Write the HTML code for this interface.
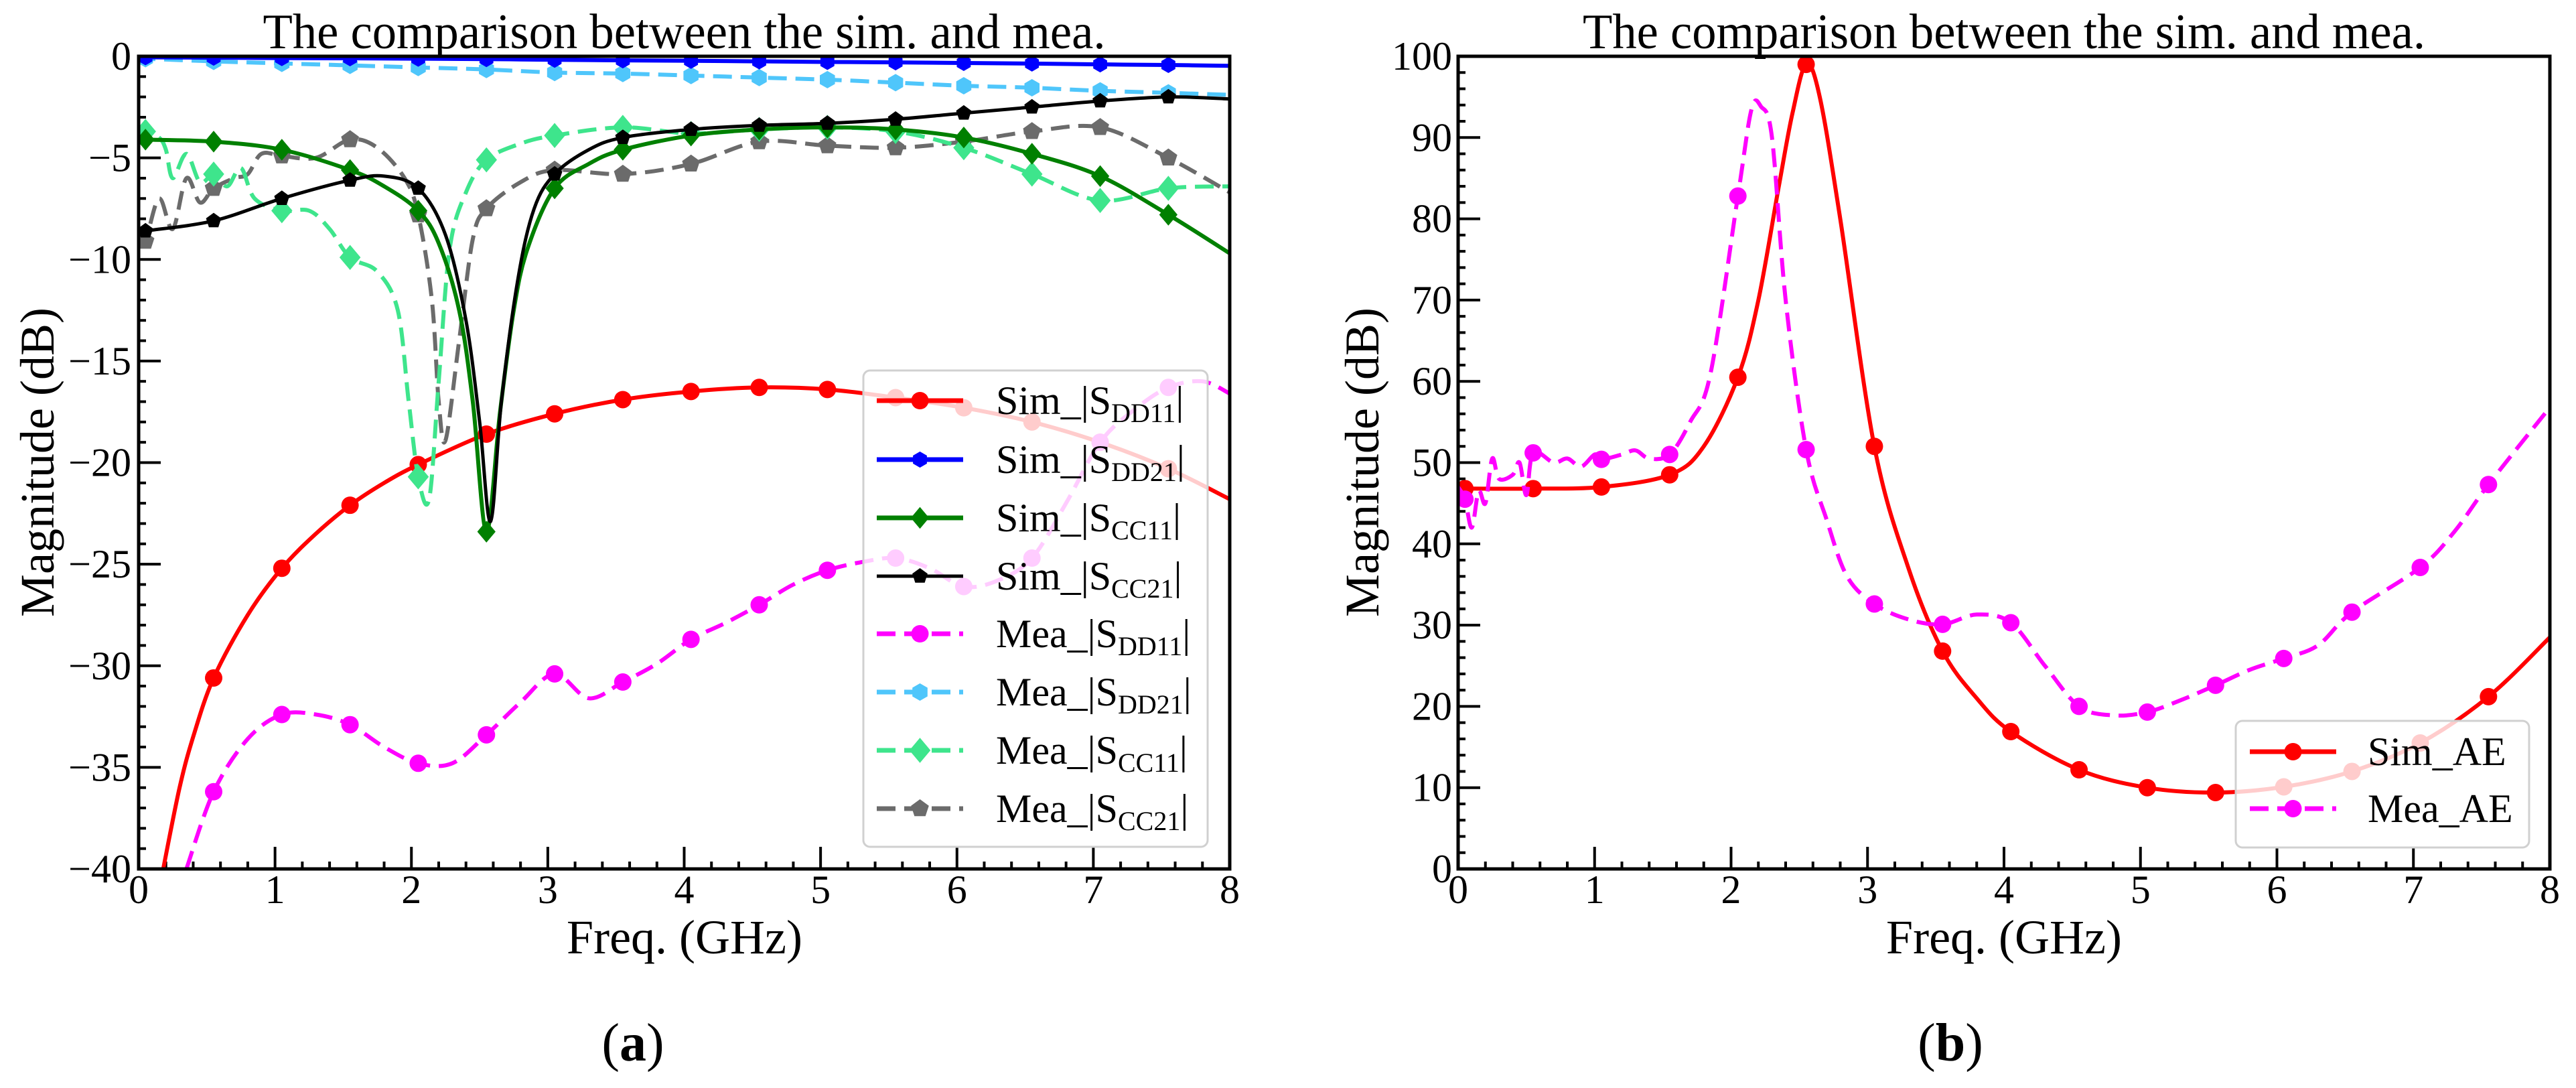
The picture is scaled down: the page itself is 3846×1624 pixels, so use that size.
<!DOCTYPE html>
<html><head><meta charset="utf-8">
<style>
html,body{margin:0;padding:0;background:#fff;}
svg{display:block;font-family:"Liberation Serif","Times New Roman",serif;}
</style></head>
<body>
<svg id="fig" width="3846" height="1624" viewBox="0 0 3846 1624" xmlns="http://www.w3.org/2000/svg">
<defs>
<clipPath id="clipA"><rect x="207" y="84" width="1629" height="1213"/></clipPath>
<clipPath id="clipB"><rect x="2177" y="84" width="1630" height="1213"/></clipPath>
</defs>
<g id="panelA"></g>
<g id="panelB"></g>
</svg>
<script>
// ===== Panel (a) data =====
const xTicksA = [0,1,2,3,4,5,6,7,8];
const yTicksA = [0,-5,-10,-15,-20,-25,-30,-35,-40];
const simDD11F = [0.18,0.3,0.4,0.55,0.8,1.05,1.3,1.55,1.8,2.05,2.55,3.05,3.55,4.05,4.55,5.05,5.55,6.05,6.55,7.05,7.55,8];
const simDD11V = [-40,-36,-33.5,-30.6,-27.5,-25.2,-23.5,-22.1,-21.0,-20.1,-18.6,-17.6,-16.9,-16.5,-16.3,-16.4,-16.8,-17.3,-18.0,-19.0,-20.3,-21.8];
const simDD21F = [0,0.05,0.55,1.05,1.55,2.05,2.55,3.05,3.55,4.05,4.55,5.05,5.55,6.05,6.55,7.05,7.55,8];
const simDD21V = [-0.05,-0.05,-0.07,-0.09,-0.1,-0.12,-0.14,-0.17,-0.2,-0.22,-0.25,-0.28,-0.3,-0.33,-0.36,-0.4,-0.43,-0.47];
const simCC11F = [0,0.05,0.55,1.05,1.55,1.8,2.05,2.2,2.35,2.45,2.55,2.65,2.75,2.85,3.05,3.3,3.55,4.05,4.55,5.05,5.55,6.05,6.55,7.05,7.55,8];
const simCC11V = [-4.0,-4.1,-4.2,-4.6,-5.6,-6.4,-7.6,-9.2,-12.5,-17,-23.4,-17.5,-12.5,-9.5,-6.5,-5.3,-4.6,-3.9,-3.6,-3.5,-3.6,-4.0,-4.8,-5.9,-7.8,-9.7];
const simCC21F = [0,0.05,0.55,1.05,1.55,1.8,2.05,2.25,2.4,2.5,2.58,2.66,2.78,2.9,3.05,3.3,3.55,4.05,4.55,5.05,5.55,6.05,6.55,7.05,7.55,8];
const simCC21V = [-8.7,-8.6,-8.1,-7.0,-6.1,-5.9,-6.5,-8.8,-13,-18,-22.9,-17,-11,-7.5,-5.8,-4.6,-4.0,-3.6,-3.4,-3.3,-3.1,-2.8,-2.5,-2.2,-2.0,-2.1];
const meaDD11F = [0.35,0.55,0.8,1.05,1.3,1.55,1.8,2.05,2.3,2.55,2.8,3.05,3.3,3.55,3.8,4.05,4.3,4.55,4.8,5.05,5.3,5.55,5.8,6.05,6.3,6.55,6.8,7.05,7.3,7.55,7.8,8];
const meaDD11V = [-40,-36.2,-33.6,-32.4,-32.4,-32.9,-34.0,-34.8,-34.8,-33.4,-31.8,-30.4,-31.6,-30.8,-29.9,-28.7,-27.9,-27.0,-26.0,-25.3,-24.9,-24.7,-25.2,-26.1,-25.8,-24.7,-22.0,-19.0,-17.4,-16.3,-16.0,-16.6];
const meaDD21F = [0,0.05,0.55,1.05,1.55,2.05,2.55,3.05,3.55,4.05,4.55,5.05,5.55,6.05,6.55,7.05,7.55,8];
const meaDD21V = [-0.1,-0.12,-0.25,-0.35,-0.45,-0.55,-0.65,-0.8,-0.85,-0.95,-1.05,-1.15,-1.3,-1.45,-1.55,-1.7,-1.8,-1.9];
const meaCC11F = [0,0.05,0.15,0.2,0.25,0.35,0.45,0.55,0.65,0.75,0.85,1.05,1.25,1.4,1.55,1.75,1.9,1.98,2.05,2.13,2.2,2.28,2.4,2.55,2.8,3.05,3.55,4.05,4.55,5.05,5.55,6.05,6.55,7.05,7.55,8];
const meaCC11V = [-4.2,-3.7,-4.0,-4.6,-6.0,-4.8,-6.2,-5.8,-6.4,-5.5,-7.0,-7.6,-7.6,-8.5,-9.9,-10.6,-12.5,-17,-20.7,-21.8,-16,-9.5,-6.7,-5.1,-4.3,-3.9,-3.5,-3.8,-3.6,-3.5,-3.7,-4.5,-5.8,-7.1,-6.5,-6.4];
const meaCC21F = [0,0.05,0.15,0.25,0.35,0.45,0.55,0.7,0.8,0.9,1.05,1.3,1.55,1.75,1.95,2.05,2.15,2.2,2.25,2.35,2.45,2.55,2.8,3.05,3.55,4.05,4.55,5.05,5.55,6.05,6.55,7.05,7.55,8];
const meaCC21V = [-9.3,-9.1,-7.0,-8.5,-6.0,-7.2,-6.5,-6.0,-5.8,-4.8,-4.9,-5.0,-4.1,-4.5,-6.0,-7.8,-12,-17,-18.9,-14,-9.0,-7.5,-6.2,-5.6,-5.8,-5.3,-4.2,-4.4,-4.5,-4.2,-3.7,-3.5,-5.0,-6.7];
// ===== Panel (b) data =====
const xTicksB = [0,1,2,3,4,5,6,7,8];
const yTicksB = [0,10,20,30,40,50,60,70,80,90,100];
const simAEF = [0,0.05,0.55,1.05,1.55,1.8,2.05,2.2,2.35,2.45,2.55,2.65,2.8,3.05,3.3,3.55,3.8,4.05,4.55,5.05,5.55,6.05,6.55,7.05,7.55,8];
const simAEV = [46.8,46.8,46.8,47.0,48.5,52,60.5,70,84,93,99,95,80,52.0,37,26.8,21,16.9,12.2,10.0,9.4,10.1,12.0,15.5,21.2,28.5];
const meaAEF = [0,0.05,0.1,0.15,0.2,0.25,0.3,0.4,0.45,0.5,0.55,0.7,0.8,0.9,1.0,1.05,1.2,1.3,1.4,1.55,1.7,1.85,2.05,2.15,2.22,2.3,2.4,2.55,2.7,2.85,3.05,3.3,3.55,3.8,4.05,4.3,4.55,4.8,5.05,5.3,5.55,5.8,6.05,6.3,6.55,7.05,7.3,7.55,8];
const meaAEV = [47,45.5,42,46.5,45,50.5,48,48.5,50,46,51.2,50,50.5,49.5,51,50.4,51,51.5,50.5,51.0,55,61,82.8,93.5,93.8,90,70,51.6,43,36,32.6,30.7,30.1,31.3,30.3,25,20.0,18.9,19.3,20.8,22.6,24.5,25.9,27.5,31.6,37.1,41.5,47.3,56.8];

const NS = "http://www.w3.org/2000/svg";
function mk(tag, attrs, parent){const e=document.createElementNS(NS,tag);for(const k in attrs)e.setAttribute(k,attrs[k]);if(parent)parent.appendChild(e);return e;}

function smoothPath(pts){
  let d = "M"+pts[0][0].toFixed(1)+","+pts[0][1].toFixed(1);
  for(let i=0;i<pts.length-1;i++){
    const p0=pts[Math.max(0,i-1)],p1=pts[i],p2=pts[i+1],p3=pts[Math.min(pts.length-1,i+2)];
    const c1x=p1[0]+(p2[0]-p0[0])/6,c1y=p1[1]+(p2[1]-p0[1])/6;
    const c2x=p2[0]-(p3[0]-p1[0])/6,c2y=p2[1]-(p3[1]-p1[1])/6;
    d+=" C"+c1x.toFixed(1)+","+c1y.toFixed(1)+" "+c2x.toFixed(1)+","+c2y.toFixed(1)+" "+p2[0].toFixed(1)+","+p2[1].toFixed(1);
  }
  return d;
}
function marker(g,shape,x,y,color,size){
  let e;
  if(shape==="circle"){e=mk("circle",{cx:x,cy:y,r:size,fill:color},g);}
  else if(shape==="diamond"){const w=size*1.05,h=size*1.25;e=mk("polygon",{points:`${x},${y-h} ${x+w},${y} ${x},${y+h} ${x-w},${y}`,fill:color},g);}
  else if(shape==="hexagon"){let p=[];for(let k=0;k<6;k++){const a=Math.PI/6+k*Math.PI/3;p.push((x+size*Math.cos(a)).toFixed(1)+","+(y+size*Math.sin(a)).toFixed(1));}e=mk("polygon",{points:p.join(" "),fill:color},g);}
  else {let p=[];for(let k=0;k<5;k++){const a=-Math.PI/2+k*2*Math.PI/5;p.push((x+size*Math.cos(a)).toFixed(1)+","+(y+size*Math.sin(a)).toFixed(1));}e=mk("polygon",{points:p.join(" "),fill:color},g);}
  return e;
}
function isMarkerFreq(f){const r=((f-0.05)/0.5);return f>=0.04 && Math.abs(r-Math.round(r))<0.02;}

function drawAxes(g, L, R, T, B, xmin,xmax,ymin,ymax, xTicks, yTicks, xMinorStep, yMinorStep, yLabelX, prefix){
  const sx=v=>L+(v-xmin)/(xmax-xmin)*(R-L);
  const sy=v=>B-(v-ymin)/(ymax-ymin)*(B-T);
  const tg=mk("g",{},g);
  
  
  for(let v=xmin; v<=xmax+1e-9; v+=xMinorStep){
    const x=sx(v); const major=xTicks.some(t=>Math.abs(t-v)<1e-6);
    mk("line",{x1:x,y1:B,x2:x,y2:B-(major?33:11),stroke:"#000","stroke-width":4},tg);
  }
  for(let v=ymin; v<=ymax+1e-9; v+=yMinorStep){
    const y=sy(v); const major=yTicks.some(t=>Math.abs(t-v)<1e-6);
    mk("line",{x1:L,y1:y,x2:L+(major?33:11),y2:y,stroke:"#000","stroke-width":4},tg);
  }
  xTicks.forEach(t=>{
    const e=mk("text",{x:sx(t),y:1348,"text-anchor":"middle","font-size":60},g);
    e.textContent=String(t);
    
    
  });
  yTicks.forEach(t=>{
    const e=mk("text",{x:yLabelX,y:sy(t)+20,"text-anchor":"end","font-size":60},g);
    e.textContent=(t<0?"\u2212"+Math.abs(t):String(t));
    
    
  });
  return {sx,sy};
}

function drawSeries(g, clip, sc, F, V, color, dashed, shape, msize, name, lw){
  const sg=mk("g",{"clip-path":"url(#"+clip+")"},g);
  
  
  const pts=F.map((f,i)=>[sc.sx(f),sc.sy(V[i])]);
  const p=mk("path",{d:smoothPath(pts),fill:"none",stroke:color,"stroke-width":lw||6,"stroke-linejoin":"round"},sg);
  if(dashed){p.setAttribute("stroke-dasharray","28,13");}
  
  
  F.forEach((f,i)=>{
    if(isMarkerFreq(f)){
      const m=marker(sg,shape,sc.sx(f),sc.sy(V[i]),color,msize);
      
      
    }
  });
}

function legendEntry(g, x1, x2, y, color, dashed, shape, msize, label, sub, tx, lw){
  const eg=mk("g",{},g);
  
  
  const l=mk("line",{x1:x1,y1:y,x2:x2,y2:y,stroke:color,"stroke-width":lw||7},eg);
  if(dashed) l.setAttribute("stroke-dasharray","28,13");
  marker(eg,shape,(x1+x2)/2,y,color,msize);
  const t=mk("text",{x:tx,y:y+20,"font-size":60},eg);
  if(sub){
    const a=mk("tspan",{},t); a.textContent=label;
    const b=mk("tspan",{"font-size":40,dy:12}); b.textContent=sub; t.appendChild(b);
    const c=mk("tspan",{dy:-12}); c.textContent="|"; t.appendChild(c);
  } else t.textContent=label;
}

// ===== Panel A =====
(function(){
  const g=document.getElementById("panelA");
  const L=207,R=1836,T=84,B=1297;
  const title=mk("text",{x:(L+R)/2,y:72,"text-anchor":"middle","font-size":74,textLength:1258,lengthAdjust:"spacingAndGlyphs"},g);
  title.textContent="The comparison between the sim. and mea.";
  
  
  const sc=drawAxes(g,L,R,T,B,0,8,-40,0,xTicksA,yTicksA,0.2,1,196,'panel-a');
  drawSeries(g,"clipA",sc,simDD11F,simDD11V,"#ff0000",false,"circle",13,"series-sim-sdd11");
  drawSeries(g,"clipA",sc,meaDD11F,meaDD11V,"#ff00ff",true,"circle",13,"series-mea-sdd11");
  drawSeries(g,"clipA",sc,meaDD21F,meaDD21V,"#4fc6fb",true,"hexagon",13,"series-mea-sdd21");
  drawSeries(g,"clipA",sc,meaCC21F,meaCC21V,"#6b6b6b",true,"pentagon",14,"series-mea-scc21");
  drawSeries(g,"clipA",sc,meaCC11F,meaCC11V,"#3ee58c",true,"diamond",15,"series-mea-scc11");
  drawSeries(g,"clipA",sc,simCC11F,simCC11V,"#008000",false,"diamond",13,"series-sim-scc11",6);
  drawSeries(g,"clipA",sc,simCC21F,simCC21V,"#000000",false,"pentagon",12,"series-sim-scc21",5);
  drawSeries(g,"clipA",sc,simDD21F,simDD21V,"#0000ff",false,"hexagon",12,"series-sim-sdd21");
  const sp=mk("rect",{x:L,y:T,width:R-L,height:B-T,fill:"none",stroke:"#000","stroke-width":5},g);
  
  
  const lg=mk("g",{},g);
  
  
  mk("rect",{x:1289,y:553,width:514,height:711,rx:10,fill:"#fff","fill-opacity":0.8,stroke:"#d0d0d0","stroke-width":3},lg);
  const ys=[598,686,773,860,946,1033,1120,1207];
  legendEntry(lg,1309,1438,ys[0],"#ff0000",false,"circle",13,"Sim_|S","DD11",1487);
  legendEntry(lg,1309,1438,ys[1],"#0000ff",false,"hexagon",12,"Sim_|S","DD21",1487);
  legendEntry(lg,1309,1438,ys[2],"#008000",false,"diamond",13,"Sim_|S","CC11",1487);
  legendEntry(lg,1309,1438,ys[3],"#000000",false,"pentagon",12,"Sim_|S","CC21",1487,5);
  legendEntry(lg,1309,1438,ys[4],"#ff00ff",true,"circle",13,"Mea_|S","DD11",1487);
  legendEntry(lg,1309,1438,ys[5],"#4fc6fb",true,"hexagon",13,"Mea_|S","DD21",1487);
  legendEntry(lg,1309,1438,ys[6],"#3ee58c",true,"diamond",15,"Mea_|S","CC11",1487);
  legendEntry(lg,1309,1438,ys[7],"#6b6b6b",true,"pentagon",14,"Mea_|S","CC21",1487);
  const xl=mk("text",{x:1022,y:1423,"text-anchor":"middle","font-size":72},g);
  xl.textContent="Freq. (GHz)";
  
  
  const yl=mk("text",{x:0,y:0,"text-anchor":"middle","font-size":72,transform:"translate(80,690) rotate(-90)"},g);
  yl.textContent="Magnitude (dB)";
  
  
  const cap=mk("text",{x:945,y:1583,"text-anchor":"middle","font-size":80},g);
  cap.innerHTML='(<tspan font-weight="bold">a</tspan>)';
  
  
})();

// ===== Panel B =====
(function(){
  const g=document.getElementById("panelB");
  const L=2177,R=3807,T=84,B=1297;
  const title=mk("text",{x:(L+R)/2,y:72,"text-anchor":"middle","font-size":74,textLength:1258,lengthAdjust:"spacingAndGlyphs"},g);
  title.textContent="The comparison between the sim. and mea.";
  
  
  const sc=drawAxes(g,L,R,T,B,0,8,0,100,xTicksB,yTicksB,0.2,2,2168,'panel-b');
  drawSeries(g,"clipB",sc,simAEF,simAEV,"#ff0000",false,"circle",13,"series-sim-ae",6);
  drawSeries(g,"clipB",sc,meaAEF,meaAEV,"#ff00ff",true,"circle",13,"series-mea-ae",6);
  const sp=mk("rect",{x:L,y:T,width:R-L,height:B-T,fill:"none",stroke:"#000","stroke-width":5},g);
  
  
  const lg=mk("g",{},g);
  
  
  mk("rect",{x:3338,y:1076,width:438,height:189,rx:10,fill:"#fff","fill-opacity":0.8,stroke:"#d0d0d0","stroke-width":3},lg);
  legendEntry(lg,3359,3488,1122,"#ff0000",false,"circle",13,"Sim_AE",null,3535);
  legendEntry(lg,3359,3488,1207,"#ff00ff",true,"circle",13,"Mea_AE",null,3535);
  const xl=mk("text",{x:2992,y:1423,"text-anchor":"middle","font-size":72},g);
  xl.textContent="Freq. (GHz)";
  
  
  const yl=mk("text",{x:0,y:0,"text-anchor":"middle","font-size":72,transform:"translate(2058,690) rotate(-90)"},g);
  yl.textContent="Magnitude (dB)";
  
  
  const cap=mk("text",{x:2912,y:1583,"text-anchor":"middle","font-size":80},g);
  cap.innerHTML='(<tspan font-weight="bold">b</tspan>)';
  
  
})();
</script>
</body></html>
